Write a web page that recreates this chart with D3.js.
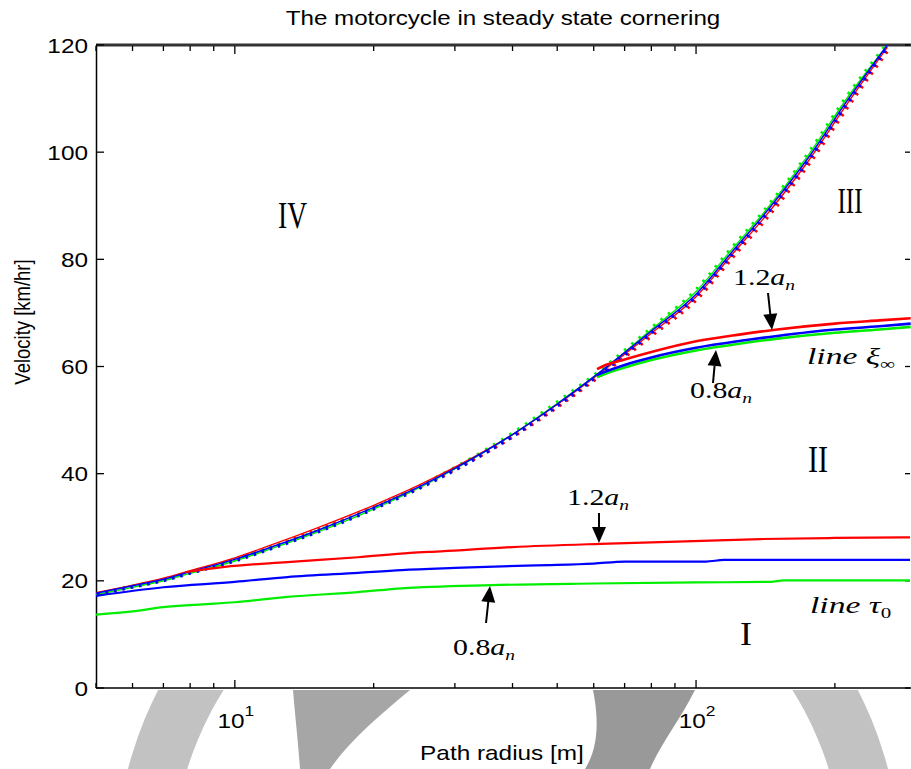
<!DOCTYPE html>
<html>
<head>
<meta charset="utf-8">
<script src="https://cdn.jsdelivr.net/npm/d3@7"></script>
<style>
  body { margin: 0; background: #fff; }
  svg { display: block; }
</style>
</head>
<body>
<svg id="viz"></svg>
<script>
// ---- data (radius in m, velocity in km/h) ----
// upper boundary curve (region IV above it)
const upperR      = [5, 6, 7, 8, 10, 12, 15, 20, 25, 30, 40, 50, 62, 80, 100, 120, 140, 175, 213, 260];
const upperBlue   = [17.7, 19.1, 20.3, 21.7, 24.0, 26.3, 29.3, 33.7, 37.5, 41.0, 47.3, 53.0, 59.0, 66.6, 73.5, 81.5, 88.2, 98.9, 109.7, 120];
const upperRed    = [17.8, 19.2, 20.5, 21.9, 24.3, 26.7, 29.8, 34.1, 37.8, 41.2, 47.3, 52.9, 58.8, 66.2, 73.0, 81.0, 87.6, 98.3, 109.1, 119.6];
const upperGreen  = [17.4, 18.8, 20.0, 21.4, 23.7, 26.0, 29.0, 33.4, 37.3, 40.9, 47.3, 53.1, 59.0, 66.9, 74.0, 82.0, 88.6, 99.4, 110.2, 120];

// line tau_0 (lower family)
const tauRedR   = [7.8, 9.5, 13, 18.5, 24, 28, 40, 62, 91, 138, 200, 291];
const tauRedV   = [21.6, 22.6, 23.5, 24.4, 25.2, 25.5, 26.3, 26.9, 27.3, 27.8, 28.0, 28.1];
const tauBlueR  = [5, 7, 10, 13, 18.5, 23, 30, 45, 60, 70, 105, 115, 291];
const tauBlueV  = [17.2, 18.8, 19.8, 20.7, 21.5, 22.0, 22.4, 22.9, 23.2, 23.6, 23.6, 23.9, 23.9];
const tauGreenR = [5, 6, 7, 8.5, 10, 13, 18.5, 23, 36, 60, 100, 145, 155, 291];
const tauGreenV = [13.7, 14.3, 15.1, 15.6, 16.0, 17.0, 17.9, 18.6, 19.2, 19.5, 19.7, 19.8, 20.1, 20.1];

// line xi_inf (upper family)
const xiR      = [61, 63, 70, 80, 100, 125, 150, 200, 250, 292];
const xiRedV   = [59.5, 60.1, 61.3, 62.7, 64.7, 66.0, 66.9, 68.0, 68.6, 69.0];
const xiBlueV  = [58.4, 58.9, 60.3, 61.7, 63.5, 64.8, 65.7, 66.9, 67.5, 68.0];
const xiGreenV = [58.0, 58.5, 59.8, 61.2, 63.0, 64.3, 65.2, 66.3, 66.9, 67.4];

const xTicks = [5, 6, 7, 8, 9, 10, 20, 30, 40, 50, 60, 70, 80, 90, 100, 200];
const xMajor = [10, 100];
const xLabels = [[10, '1'], [100, '2']];
const yTicks = [0, 20, 40, 60, 80, 100, 120];

const RED = '#ff0000', BLUE = '#0000ff', GREEN = '#00ee00';
const SANS = "'Liberation Sans', Arial, sans-serif";
const SERIF = "'Liberation Serif', 'Times New Roman', serif";

const svg = d3.select('#viz').attr('width', 911).attr('height', 769);

const x = d3.scaleLog().domain([5, 291]).range([96, 910]);
const y = d3.scaleLinear().domain([0, 120]).range([688, 45]);

// ---- faint seal watermark below the axes ----
const defs = svg.append('defs');
defs.append('clipPath').attr('id', 'below').append('rect')
  .attr('x', 0).attr('y', 690).attr('width', 911).attr('height', 80);
defs.append('clipPath').attr('id', 'plot').append('rect')
  .attr('x', 96).attr('y', 44).attr('width', 816).attr('height', 645);

const wm = svg.append('g').attr('clip-path', 'url(#below)');
wm.append('path')
  .attr('transform', 'translate(508,869)')
  .attr('d', d3.arc()({innerRadius: 336, outerRadius: 393, startAngle: 0, endAngle: 2 * Math.PI}))
  .attr('fill', '#c2c2c2');
wm.append('path')
  .attr('d', 'M293,690 L410,690 C380,715 350,740 330,769 L300,769 C298,740 295,715 293,690 Z')
  .attr('fill', '#a6a6a6');
wm.append('path')
  .attr('d', 'M593,690 L695,690 C680,720 660,745 650,769 L585,769 C600,745 598,715 593,690 Z')
  .attr('fill', '#999');

// ---- axes frame ----
svg.append('line').attr('x1', 96).attr('x2', 911).attr('y1', 45).attr('y2', 45)
  .attr('stroke', '#333').attr('stroke-width', 3);
svg.append('line').attr('x1', 96).attr('x2', 911).attr('y1', 688).attr('y2', 688)
  .attr('stroke', '#000').attr('stroke-width', 1.5);
svg.append('line').attr('x1', 96.5).attr('x2', 96.5).attr('y1', 45).attr('y2', 688)
  .attr('stroke', '#000').attr('stroke-width', 1.5);

const ticks = svg.append('g').attr('stroke', '#000').attr('stroke-width', 1.3);
ticks.selectAll('.xb').data(xTicks).join('line')
  .attr('x1', d => x(d)).attr('x2', d => x(d))
  .attr('y1', 688).attr('y2', d => 688 - (xMajor.includes(d) ? 8 : 5));
ticks.selectAll('.xt').data(xTicks).join('line')
  .attr('x1', d => x(d)).attr('x2', d => x(d))
  .attr('y1', 46).attr('y2', d => 46 + (xMajor.includes(d) ? 8 : 5));
ticks.selectAll('.yl').data(yTicks).join('line')
  .attr('x1', 96).attr('x2', 104)
  .attr('y1', d => y(d)).attr('y2', d => y(d));
ticks.selectAll('.yr').data(yTicks).join('line')
  .attr('x1', 910).attr('x2', 905)
  .attr('y1', d => y(d)).attr('y2', d => y(d));

// tick labels
svg.selectAll('.ylab').data(yTicks).join('text')
  .attr('transform', d => `translate(88,${y(d) + 7.5}) scale(1.16,1)`)
  .attr('text-anchor', 'end').attr('font-family', SANS).attr('font-size', 21)
  .text(d => d);
xLabels.forEach(([v, p]) => {
  const t = svg.append('text')
    .attr('transform', `translate(${x(v) + 1},728) scale(1.16,1)`)
    .attr('text-anchor', 'middle').attr('font-family', SANS).attr('font-size', 21);
  t.append('tspan').text('10');
  t.append('tspan').attr('font-size', 15).attr('dy', -12).text(p);
});

// titles
svg.append('text').attr('transform', 'translate(503,25) scale(1.15,1)')
  .attr('text-anchor', 'middle').attr('font-family', SANS).attr('font-size', 21)
  .text('The motorcycle in steady state cornering');
svg.append('text').attr('transform', 'translate(502,760) scale(1.16,1)')
  .attr('text-anchor', 'middle').attr('font-family', SANS).attr('font-size', 21)
  .text('Path radius [m]');
svg.append('text').attr('transform', 'translate(30,322) rotate(-90) scale(1,1.16)')
  .attr('text-anchor', 'middle').attr('font-family', SANS).attr('font-size', 18.5)
  .text('Velocity [km/hr]');

// ---- curves ----
const plot = svg.append('g').attr('clip-path', 'url(#plot)');
const line = d3.line().x(d => x(d[0])).y(d => y(d[1])).curve(d3.curveMonotoneX);
const pts = (R, V) => R.map((r, i) => [r, V[i]]);

function curve(R, V, color, w, dash, dx, dy) {
  const p = plot.append('path').datum(pts(R, V))
    .attr('d', line).attr('fill', 'none').attr('stroke', color)
    .attr('stroke-width', w).attr('stroke-linejoin', 'round');
  if (dash) p.attr('stroke-dasharray', dash);
  if (dx || dy) p.attr('transform', `translate(${dx || 0},${dy || 0})`);
  return p;
}

// upper boundary: thin lines with dotted markers
curve(upperR, upperRed, RED, 3, '2.5 6', 2, 1.5);
curve(upperR, upperGreen, GREEN, 3, '2.5 7', -1, -1);
curve(upperR, upperRed, RED, 1.4);
curve(upperR, upperGreen, GREEN, 1.4);
curve(upperR, upperBlue, BLUE, 1.5);
curve(upperR, upperBlue, BLUE, 3.2, '2.5 6', 1.2, 1.2);

// line xi_inf
curve(xiR, xiRedV, RED, 2.6);
curve(xiR, xiGreenV, GREEN, 2.6);
curve(xiR, xiBlueV, BLUE, 2.6);

// line tau_0
curve(tauRedR, tauRedV, RED, 2.2);
curve(tauGreenR, tauGreenV, GREEN, 2.2);
curve(tauBlueR, tauBlueV, BLUE, 2.2);

// ---- annotations ----
function mathLabel(parts, px, py, sx, size) {
  const t = svg.append('text')
    .attr('transform', `translate(${px},${py}) scale(${sx},1)`)
    .attr('font-family', SERIF).attr('font-size', size);
  parts.forEach(p => {
    const s = t.append('tspan').text(p.t).attr('font-style', p.i ? 'italic' : 'normal');
    if (p.s) s.attr('font-size', p.s);
    if (p.dy) s.attr('dy', p.dy);
  });
}
const an = (num) => [{t: num}, {t: 'a', i: 1}, {t: 'n', i: 1, s: 15, dy: 5}];
mathLabel(an('1.2'), 733, 285, 1.3, 23);
mathLabel(an('0.8'), 690, 398, 1.3, 23);
mathLabel(an('1.2'), 567, 505, 1.3, 23);
mathLabel(an('0.8'), 453, 655, 1.3, 23);
mathLabel([{t: 'line', i: 1}, {t: ' '}, {t: 'ξ', i: 1}, {t: '∞', s: 15, dy: 5}], 807, 364, 1.4, 24);
mathLabel([{t: 'line', i: 1}, {t: ' '}, {t: 'τ', i: 1}, {t: '0', s: 15, dy: 5}], 810, 613, 1.4, 24);

function arrow(x1, y1, x2, y2) {
  const a = Math.atan2(y2 - y1, x2 - x1), L = 16, hw = 7;
  const bx = x2 - L * Math.cos(a), by = y2 - L * Math.sin(a);
  svg.append('line').attr('x1', x1).attr('y1', y1).attr('x2', bx).attr('y2', by)
    .attr('stroke', '#000').attr('stroke-width', 2);
  svg.append('path')
    .attr('d', `M${x2},${y2} L${bx + hw * Math.sin(a)},${by - hw * Math.cos(a)} L${bx - hw * Math.sin(a)},${by + hw * Math.cos(a)} Z`)
    .attr('fill', '#000');
}
arrow(768, 293, 772, 330);
arrow(713, 383, 716, 350);
arrow(599, 513, 599, 543);
arrow(486, 623, 490, 586);

// region numerals
const roman = [['IV', 292.5, 228, 37, 29], ['III', 850, 213, 35, 25], ['II', 818, 472, 37, 20], ['I', 746, 645, 33, 12]];
svg.selectAll('.roman').data(roman).join('text')
  .attr('x', d => d[1]).attr('y', d => d[2])
  .attr('text-anchor', 'middle').attr('font-family', SERIF)
  .attr('font-size', d => d[3])
  .attr('textLength', d => d[4]).attr('lengthAdjust', 'spacingAndGlyphs')
  .text(d => d[0]);
</script>
</body>
</html>
